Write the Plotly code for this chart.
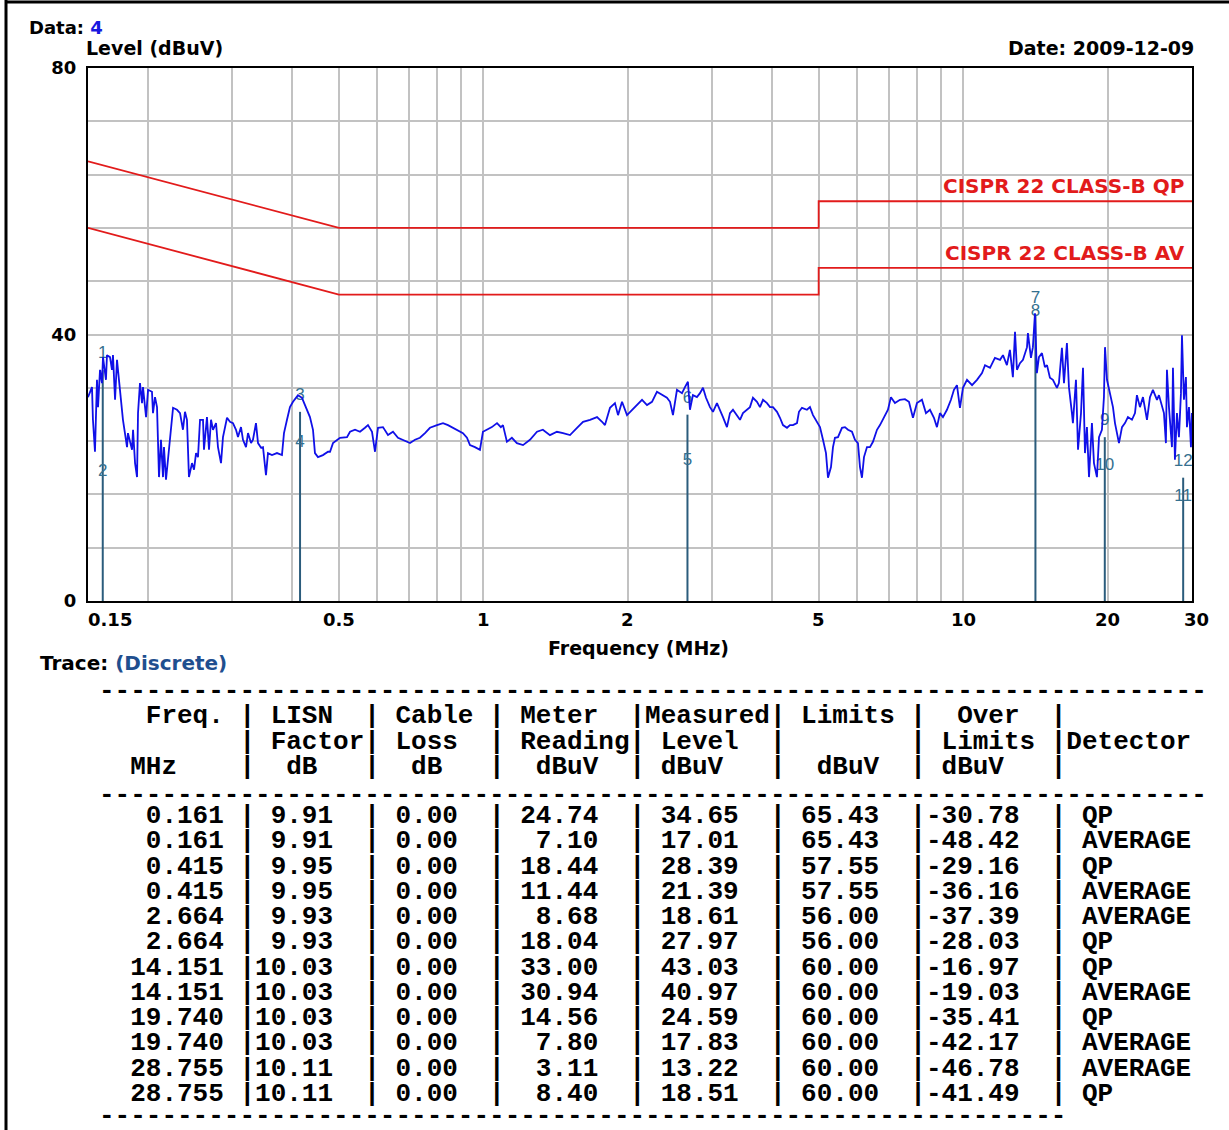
import numpy as np
import plotly.graph_objects as go

# ---------------- data ----------------
trace_freq = [0.150, 0.1529, 0.1536, 0.1551, 0.1566, 0.1574, 0.1589, 0.1604, 0.1612, 0.1635,
              0.1643, 0.1667, 0.1683, 0.1691, 0.1708, 0.1724, 0.1732, 0.1757, 0.1774, 0.1809,
              0.1817, 0.1853, 0.1862, 0.1880, 0.1898, 0.1907, 0.1925, 0.1944, 0.1953, 0.1982,
              0.2001, 0.2039, 0.2049, 0.2069, 0.2089, 0.2109, 0.2129, 0.2150, 0.2160, 0.2181,
              0.2202, 0.2223, 0.2256, 0.2299, 0.2333, 0.2366, 0.2389, 0.2412, 0.2435, 0.2471,
              0.2495, 0.2519, 0.2543, 0.2568, 0.2605, 0.2617, 0.2655, 0.2681, 0.2707, 0.2733,
              0.2773, 0.2799, 0.2840, 0.2867, 0.2923, 0.2965, 0.3008, 0.3052, 0.3081, 0.3126,
              0.3156, 0.3202, 0.3233, 0.3280, 0.3311, 0.3359, 0.3392, 0.3441, 0.3474, 0.3524,
              0.3558, 0.3627, 0.3715, 0.3805, 0.3842, 0.3898, 0.3954, 0.4012, 0.4109, 0.4189,
              0.4270, 0.4352, 0.4416, 0.4458, 0.4523, 0.4632, 0.4746, 0.4792, 0.4861, 0.5027,
              0.5199, 0.5275, 0.5403, 0.5534, 0.5668, 0.5750, 0.5862, 0.5947, 0.6033, 0.6179,
              0.6329, 0.6483, 0.6640, 0.6801, 0.7034, 0.7205, 0.7379, 0.7559, 0.7742, 0.8007,
              0.8241, 0.8441, 0.8645, 0.8855, 0.9070, 0.9246, 0.9380, 0.9607, 0.9841, 0.9983,
              1.018, 1.042, 1.068, 1.088, 1.099, 1.120, 1.147, 1.175, 1.210, 1.251,
              1.294, 1.331, 1.377, 1.424, 1.466, 1.516, 1.568, 1.614, 1.669, 1.726,
              1.768, 1.793, 1.837, 1.881, 1.909, 1.946, 1.993, 2.041, 2.091, 2.142,
              2.194, 2.247, 2.301, 2.357, 2.414, 2.450, 2.485, 2.533, 2.595, 2.632,
              2.670, 2.696, 2.735, 2.788, 2.829, 2.870, 2.912, 2.968, 3.011, 3.069,
              3.114, 3.159, 3.220, 3.267, 3.314, 3.379, 3.428, 3.477, 3.545, 3.596,
              3.648, 3.719, 3.773, 3.828, 3.902, 3.959, 4.016, 4.094, 4.153, 4.213,
              4.295, 4.357, 4.420, 4.506, 4.549, 4.615, 4.727, 4.796, 4.866, 4.960,
              5.032, 5.105, 5.179, 5.229, 5.305, 5.356, 5.407, 5.486, 5.592, 5.673,
              5.756, 5.867, 5.952, 6.038, 6.097, 6.155, 6.215, 6.305, 6.396, 6.489,
              6.615, 6.711, 6.841, 6.973, 7.074, 7.211, 7.386, 7.565, 7.712, 7.862,
              8.014, 8.208, 8.368, 8.530, 8.695, 8.821, 8.949, 9.079, 9.255, 9.434,
              9.571, 9.710, 9.851, 9.994, 10.19, 10.44, 10.69, 10.95, 11.11, 11.38,
              11.65, 11.94, 12.11, 12.34, 12.52, 12.70, 12.83, 12.95, 13.14, 13.33,
              13.59, 13.65, 13.85, 13.98, 14.12, 14.25, 14.39, 14.60, 14.81, 14.96,
              15.17, 15.39, 15.69, 15.84, 16.07, 16.23, 16.46, 16.62, 16.86, 16.94,
              17.19, 17.36, 17.61, 17.78, 17.95, 18.12, 18.30, 18.56, 18.74, 19.01,
              19.20, 19.47, 19.66, 19.76, 19.95, 20.24, 20.53, 20.73, 20.93, 21.13,
              21.44, 21.75, 22.06, 22.49, 22.82, 23.03, 23.37, 23.71, 24.17, 24.52,
              24.87, 25.36, 25.60, 25.97, 26.22, 26.47, 26.60, 26.86, 27.25, 27.38,
              27.64, 27.91, 28.18, 28.45, 28.59, 28.86, 29.14, 29.28, 29.57, 29.85,
              29.99]
trace_level = [30.6, 32.1, 27.2, 22.4, 33.2, 29.1, 34.7, 32.7, 36.6, 33.2,
               36.9, 36.6, 34.7, 36.9, 30.2, 36.2, 34.7, 30.2, 27.2, 23.1,
               25.2, 22.7, 25.7, 20.7, 18.6, 28.2, 32.7, 29.7, 32.1, 27.6,
               31.7, 31.4, 28.2, 30.6, 29.1, 18.6, 24.2, 18.6, 23.1, 18.2,
               21.6, 24.2, 29.0, 28.7, 28.2, 25.7, 28.4, 27.2, 18.6, 20.7,
               19.7, 22.2, 21.6, 27.2, 27.2, 22.7, 27.6, 22.7, 27.2, 25.7,
               26.7, 23.1, 20.7, 24.6, 27.5, 26.9, 26.7, 25.7, 24.6, 26.1,
               24.2, 23.1, 25.2, 23.7, 24.2, 26.7, 23.7, 23.0, 23.1, 18.9,
               22.2, 21.9, 22.2, 21.9, 25.2, 27.2, 29.1, 29.9, 30.9, 30.5,
               29.1, 27.6, 25.7, 22.2, 21.6, 21.9, 22.4, 22.4, 23.7, 24.5,
               24.6, 25.4, 25.7, 25.4, 26.0, 26.4, 25.4, 22.4, 26.0, 26.1,
               24.9, 25.4, 24.5, 24.2, 23.7, 24.2, 24.5, 25.2, 26.0, 26.4,
               26.7, 26.4, 26.0, 25.7, 25.2, 24.5, 23.4, 23.1, 22.7, 25.4,
               25.7, 26.1, 26.7, 26.1, 26.4, 23.9, 24.5, 23.7, 23.4, 24.2,
               25.4, 25.7, 24.9, 25.4, 25.2, 24.9, 26.0, 26.9, 27.2, 27.6,
               26.9, 26.4, 29.0, 29.7, 27.9, 29.9, 27.9, 28.7, 29.4, 30.2,
               29.4, 29.9, 31.4, 30.9, 30.5, 29.9, 27.9, 31.7, 31.2, 32.1,
               32.9, 28.7, 30.9, 30.6, 31.2, 32.0, 30.5, 29.1, 28.4, 29.7,
               28.7, 27.6, 26.1, 28.2, 28.7, 27.9, 27.2, 28.2, 28.7, 29.1,
               30.5, 29.9, 29.1, 30.2, 29.7, 29.1, 29.1, 28.4, 27.5, 26.4,
               26.0, 26.4, 26.4, 26.7, 28.4, 29.0, 28.7, 29.1, 27.9, 26.9,
               26.1, 24.2, 22.2, 18.5, 20.1, 23.1, 24.5, 24.6, 26.0, 26.1,
               25.7, 25.4, 24.2, 23.7, 20.1, 18.5, 21.6, 23.1, 23.1, 23.9,
               25.7, 26.4, 27.6, 28.7, 30.6, 29.7, 30.2, 30.3, 29.9, 27.5,
               29.7, 30.2, 28.2, 28.7, 27.5, 26.1, 28.2, 27.6, 28.7, 30.2,
               31.7, 32.4, 29.0, 32.0, 33.2, 32.4, 33.2, 34.2, 35.4, 35.0,
               36.5, 36.2, 36.9, 35.4, 37.7, 33.6, 40.4, 34.7, 35.7, 36.2,
               38.1, 40.2, 36.5, 38.1, 43.2, 34.2, 36.6, 37.2, 35.1, 35.4,
               33.5, 33.2, 32.0, 32.7, 38.0, 32.7, 38.7, 32.1, 28.2, 26.7,
               33.2, 22.7, 28.2, 35.0, 22.2, 26.1, 18.6, 26.7, 20.7, 18.6,
               24.6, 25.7, 30.6, 38.1, 33.2, 30.9, 29.1, 26.7, 25.2, 23.7,
               26.1, 26.7, 27.6, 27.2, 28.2, 30.9, 29.1, 30.6, 27.2, 30.6,
               31.7, 30.2, 30.9, 29.0, 28.2, 23.7, 34.7, 29.1, 23.1, 35.0,
               21.2, 28.2, 24.6, 31.2, 39.9, 30.2, 33.6, 26.1, 29.1, 23.1,
               28.2]

# limit lines (CISPR 22 class B)
qp_freq = [0.15, 0.5, 5, 5, 30]
qp_level = [66, 56, 56, 60, 60]
av_freq = [0.15, 0.5, 5, 5, 30]
av_level = [56, 46, 46, 50, 50]

# measurement table
meas_freq = [0.161, 0.161, 0.415, 0.415, 2.664, 2.664, 14.151, 14.151, 19.740, 19.740, 28.755, 28.755]
lisn_factor = [9.91, 9.91, 9.95, 9.95, 9.93, 9.93, 10.03, 10.03, 10.03, 10.03, 10.11, 10.11]
cable_loss = [0.00, 0.00, 0.00, 0.00, 0.00, 0.00, 0.00, 0.00, 0.00, 0.00, 0.00, 0.00]
meter_reading = [24.74, 7.10, 18.44, 11.44, 8.68, 18.04, 33.00, 30.94, 14.56, 7.80, 3.11, 8.40]
measured_level = [34.65, 17.01, 28.39, 21.39, 18.61, 27.97, 43.03, 40.97, 24.59, 17.83, 13.22, 18.51]
limit_values = [65.43, 65.43, 57.55, 57.55, 56.00, 56.00, 60.00, 60.00, 60.00, 60.00, 60.00, 60.00]
over_limit = [-30.78, -48.42, -29.16, -36.16, -37.39, -28.03, -16.97, -19.03, -35.41, -42.17, -46.78, -41.49]
detector = ["QP", "AVERAGE", "QP", "AVERAGE", "AVERAGE", "QP", "QP", "AVERAGE", "QP", "AVERAGE", "AVERAGE", "QP"]

table_header = [
    "   Freq. | LISN  | Cable | Meter  |Measured| Limits |  Over  |",
    "         | Factor| Loss  | Reading| Level  |        | Limits |Detector",
    "  MHz    |  dB   |  dB   |  dBuV  | dBuV   |  dBuV  | dBuV   |",
]

x_tick_vals = [0.15, 0.5, 1, 2, 5, 10, 20, 30]
x_tick_text = ["0.15", "0.5", "1", "2", "5", "10", "20", "30"]
x_grid_vals = [0.2, 0.3, 0.4, 0.5, 0.6, 0.7, 0.8, 0.9, 1, 2, 3, 4, 5, 6, 7, 8, 9, 10, 20]
y_grid_vals = [0, 8, 16, 24, 32, 40, 48, 56, 64, 72, 80]
y_label_vals = [0, 40, 80]

# ---------------- figure ----------------
W, H = 1229, 1130
L, R, T, B = 88, 1192, 68, 601


def px(x):
    return (x - L) / (R - L)


def py(y):
    return (B - y) / (B - T)


SANS = "DejaVu Sans"
MONO = "Liberation Mono"
GRID = "#c2c2c2"
MARK = "#2b5c7c"
RED = "#e21b1b"

fig = go.Figure()

# marker stems
stem_x, stem_y = [], []
for i in range(0, len(meas_freq), 2):
    top = max(measured_level[i], measured_level[i + 1])
    stem_x += [meas_freq[i], meas_freq[i], None]
    stem_y += [0, top, None]
fig.add_trace(go.Scatter(x=stem_x, y=stem_y, mode="lines",
                         line=dict(color=MARK, width=2), hoverinfo="skip"))

# marker numbers
fig.add_trace(go.Scatter(
    x=meas_freq, y=[v + 2.4 for v in measured_level], mode="text",
    text=[str(i + 1) for i in range(len(meas_freq))],
    textposition="middle center",
    textfont=dict(family="Liberation Sans", size=17, color="#35708f"),
    hoverinfo="skip"))

# limits
fig.add_trace(go.Scatter(x=qp_freq, y=qp_level, mode="lines",
                         line=dict(color=RED, width=1.8), hoverinfo="skip"))
fig.add_trace(go.Scatter(x=av_freq, y=av_level, mode="lines",
                         line=dict(color=RED, width=1.8), hoverinfo="skip"))

# measured spectrum
fig.add_trace(go.Scatter(x=trace_freq, y=trace_level, mode="lines",
                         line=dict(color="#1010e8", width=1.8), hoverinfo="skip"))

annotations = []


def add_text(text, x, y, xanchor="left", size=19, color="black", family=SANS):
    annotations.append(dict(text=text, x=px(x), y=py(y), xref="paper", yref="paper",
                            xanchor=xanchor, yanchor="middle", showarrow=False,
                            font=dict(family=family, size=size, color=color)))


add_text("<b>Data: <span style='color:#1818e0'>4</span></b>", 27, 27, size=18)
add_text("<b>Level (dBuV)</b>", 84, 48)
add_text("<b>Date: 2009-12-09</b>", 1196, 48, xanchor="right")
add_text("<b>Frequency (MHz)</b>", 638, 648, xanchor="center")
add_text("<b>Trace: <span style='color:#1f4f8f'>(Discrete)</span></b>", 38, 663, size=20)
add_text("<b>CISPR 22 CLASS-B QP</b>", 1186, 186, xanchor="right", size=20, color=RED)
add_text("<b>CISPR 22 CLASS-B AV</b>", 1187, 253, xanchor="right", size=20, color=RED)

# x tick labels
for v, t in zip(x_tick_vals, x_tick_text):
    xa = "left" if v == x_tick_vals[0] else "center"
    annotations.append(dict(text="<b>%s</b>" % t, x=np.log10(v), y=py(619),
                            xref="x", yref="paper", xanchor=xa, yanchor="middle",
                            xshift=(-2 if xa == "left" else (4 if v == x_tick_vals[-1] else 0)),
                            showarrow=False,
                            font=dict(family=SANS, size=18, color="black")))


# table
def mono_line(s, y):
    add_text("<b>" + s.replace(" ", "\u00a0") + "</b>", 97, y, size=26, family=MONO)


mono_line("-" * 71, 691)
for k, s in enumerate(table_header):
    mono_line(s, 716 + k * 25.5)
mono_line("-" * 71, 795)
for i in range(len(meas_freq)):
    row = "%8.3f |%5.2f  |%5.2f  |%6.2f  |%6.2f  |%6.2f  |%6.2f  | %s" % (
        meas_freq[i], lisn_factor[i], cable_loss[i], meter_reading[i],
        measured_level[i], limit_values[i], over_limit[i], detector[i])
    mono_line(row, 816 + i * 25.27)
mono_line("-" * 62, 1116)

shapes = [
    dict(type="line", xref="paper", yref="paper", x0=px(6), x1=px(6), y0=py(0), y1=py(H),
         line=dict(color="black", width=3)),
    dict(type="line", xref="paper", yref="paper", x0=px(5), x1=px(W), y0=py(2), y1=py(2),
         line=dict(color="black", width=3)),
]

fig.update_layout(
    width=W, height=H, autosize=False,
    margin=dict(l=L, r=W - R, t=T, b=H - B, pad=0),
    paper_bgcolor="white", plot_bgcolor="white",
    showlegend=False,
    annotations=annotations, shapes=shapes,
    xaxis=dict(type="log", range=[np.log10(0.15), np.log10(30)],
               tickvals=x_grid_vals, showticklabels=False, ticks="",
               showgrid=True, gridcolor=GRID, gridwidth=1.7, zeroline=False,
               showline=True, mirror=True, linecolor="black", linewidth=2),
    yaxis=dict(range=[0, 80], tickvals=y_grid_vals,
               ticktext=["<b>%d</b>" % v if v in y_label_vals else "" for v in y_grid_vals],
               tickfont=dict(family=SANS, size=18, color="black"), ticks="",
               ticklabelstandoff=6,
               showgrid=True, gridcolor=GRID, gridwidth=1.7, zeroline=False,
               showline=True, mirror=True, linecolor="black", linewidth=2),
)

fig.write_html("out.html", config={"displayModeBar": False},
               post_script="document.body.style.margin='0px';")
